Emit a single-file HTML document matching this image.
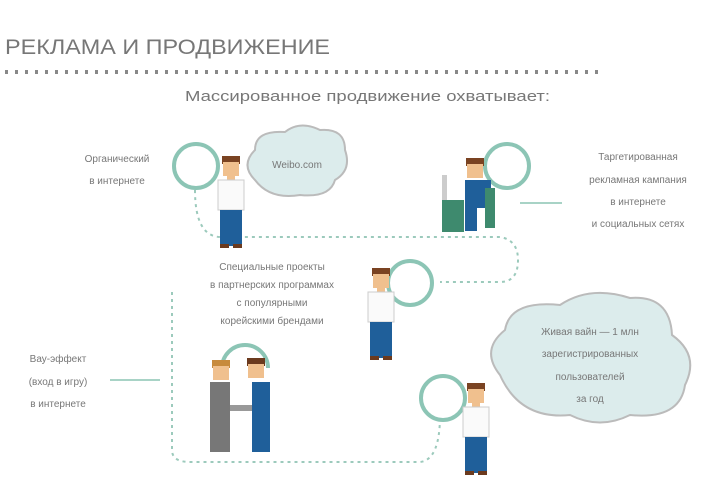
<!DOCTYPE html>
<html><head><meta charset="utf-8"><style>
body{margin:0;background:#fff;width:720px;height:480px;overflow:hidden}
svg{display:block}
text{font-family:"Liberation Sans",sans-serif;fill:#777}
</style></head><body>
<svg width="720" height="480" viewBox="0 0 720 480">
<defs>
<g id="man">
 <rect x="-9" y="0" width="18" height="8" fill="#7a4322"/>
 <rect x="-8" y="6" width="16" height="14" fill="#f0c08e"/>
 <rect x="-4" y="20" width="8" height="4" fill="#f0c08e"/>
 <rect x="-13" y="24" width="26" height="30" fill="#fafafa" stroke="#ccc"/>
 <rect x="-11" y="54" width="22" height="36" fill="#1f5f9a"/>
 <rect x="-11" y="88" width="9" height="4" fill="#6b3a1e"/>
 <rect x="2" y="88" width="9" height="4" fill="#6b3a1e"/>
</g>
</defs>

<text x="5" y="54" font-size="21" fill="#888" textLength="325" lengthAdjust="spacingAndGlyphs">РЕКЛАМА И ПРОДВИЖЕНИЕ</text>
<line x1="5" y1="72" x2="600" y2="72" stroke="#888" stroke-width="4" stroke-dasharray="3,7"/>
<text x="185" y="101" font-size="15" textLength="365" lengthAdjust="spacingAndGlyphs">Массированное продвижение охватывает:</text>

<g fill="none" stroke="#9ccabc" stroke-width="2" stroke-dasharray="3,4">
 <path d="M195 190 Q195 236 220 237 L500 237 Q518 240 518 260 Q518 282 500 282 L440 282"/>
 <path d="M172 292 L172 450 Q172 462 190 462 L420 462 Q440 460 440 415"/>
</g>
<g fill="none" stroke="#8cc5b5" stroke-width="4">
 <circle cx="196" cy="166" r="22"/>
 <circle cx="507" cy="166" r="22"/>
 <circle cx="410" cy="283" r="22"/>
 <path d="M222 368 A23 23 0 0 1 268 368"/>
 <circle cx="443" cy="398" r="22"/>
</g>
<g stroke="#a8d3c6" stroke-width="2">
 <line x1="520" y1="203" x2="562" y2="203"/>
 <line x1="110" y1="380" x2="160" y2="380"/>
</g>

<path d="M255 180 Q240 165 255 150 Q255 130 285 132 Q300 120 320 130 Q345 128 345 150 Q352 170 335 180 Q330 198 300 195 Q270 200 255 180Z" fill="#dcecec" stroke="#bbb" stroke-width="2"/>
<text x="297" y="168" font-size="10" text-anchor="middle">Weibo.com</text>

<path d="M500 375 Q480 350 505 330 Q510 300 560 305 Q590 285 630 298 Q670 295 672 335 Q700 355 685 385 Q680 420 630 415 Q600 430 570 415 Q520 420 500 375Z" fill="#dcecec" stroke="#bbb" stroke-width="2"/>
<g font-size="10" text-anchor="middle">
 <text x="590" y="335">Живая вайн — 1 млн</text>
 <text x="590" y="357">зарегистрированных</text>
 <text x="590" y="380">пользователей</text>
 <text x="590" y="402">за год</text>
</g>

<use href="#man" x="231" y="156"/>
<use href="#man" x="381" y="268"/>
<use href="#man" x="476" y="383"/>

<rect x="442" y="175" width="5" height="30" fill="#ccc"/>
<rect x="442" y="200" width="22" height="32" fill="#3e8a6e"/>
<rect x="466" y="158" width="18" height="8" fill="#7a4322"/>
<rect x="467" y="164" width="16" height="14" fill="#f0c08e"/>
<rect x="465" y="180" width="26" height="28" fill="#1f5f9a"/>
<rect x="465" y="205" width="12" height="26" fill="#1f5f9a"/>
<rect x="485" y="188" width="10" height="40" fill="#3e8a6e"/>

<rect x="212" y="360" width="18" height="8" fill="#c78a3c"/>
<rect x="213" y="366" width="16" height="14" fill="#f0c08e"/>
<rect x="210" y="382" width="20" height="70" fill="#777"/>
<rect x="247" y="358" width="18" height="8" fill="#6b3a1e"/>
<rect x="248" y="364" width="16" height="14" fill="#f0c08e"/>
<rect x="252" y="382" width="18" height="70" fill="#1f5f9a"/>
<rect x="230" y="405" width="22" height="6" fill="#999"/>

<g font-size="10" text-anchor="middle">
 <text x="117" y="162">Органический</text>
 <text x="117" y="184">в интернете</text>
 <text x="638" y="160">Таргетированная</text>
 <text x="638" y="183">рекламная кампания</text>
 <text x="638" y="205">в интернете</text>
 <text x="638" y="227">и социальных сетях</text>
 <text x="272" y="270">Специальные проекты</text>
 <text x="272" y="288">в партнерских программах</text>
 <text x="272" y="306">с популярными</text>
 <text x="272" y="324">корейскими брендами</text>
 <text x="58" y="362">Вау-эффект</text>
 <text x="58" y="385">(вход в игру)</text>
 <text x="58" y="407">в интернете</text>
</g>
</svg>
</body></html>
